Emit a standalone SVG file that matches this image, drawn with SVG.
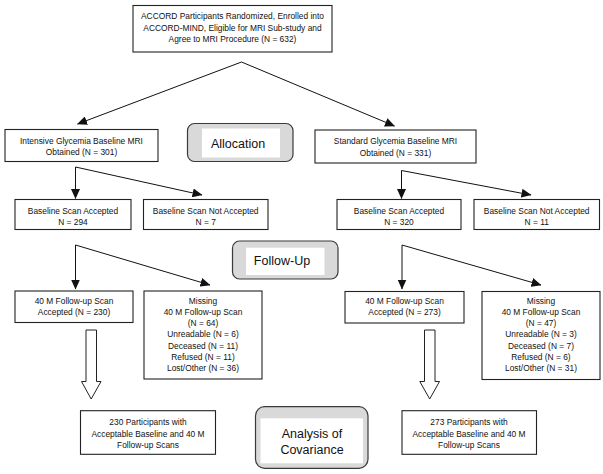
<svg xmlns="http://www.w3.org/2000/svg" width="603" height="474" viewBox="0 0 603 474">
<style>
.box{fill:#fff;stroke:#222;stroke-width:1.1}
.t{font-family:"Liberation Sans",Arial,sans-serif;font-size:8.4px;fill:#111;text-anchor:middle}
.big{font-family:"Liberation Sans",Arial,sans-serif;font-size:12.5px;fill:#111;text-anchor:middle}
.stage{fill:#d9d9d9;stroke:#3a3a3a;stroke-width:1.2}
.inner{fill:#fff;stroke:none}
.ln{fill:none;stroke:#111;stroke-width:1}
.hollow{fill:#fff;stroke:#222;stroke-width:1}
</style>
<defs>
<marker id="ah" markerUnits="userSpaceOnUse" markerWidth="10" markerHeight="9" refX="9.5" refY="4.5" orient="auto">
<path d="M0,0 L10,4.5 L0,9 Z" fill="#111"/>
</marker>
</defs>
<rect width="603" height="474" fill="#fff"/>

<g id="connectors">
<path class="ln" d="M241.5,62 L77.5,124" marker-end="url(#ah)"/>
<path class="ln" d="M241.5,62 L394.5,126" marker-end="url(#ah)"/>
<path class="ln" d="M75.5,167 L75.5,198.5" marker-end="url(#ah)"/>
<path class="ln" d="M75.5,167 L202,195" marker-end="url(#ah)"/>
<path class="ln" d="M401.5,170.5 L401.5,198.5" marker-end="url(#ah)"/>
<path class="ln" d="M401.5,170.5 L531,195" marker-end="url(#ah)"/>
<path class="ln" d="M75.5,245 L75.5,289" marker-end="url(#ah)"/>
<path class="ln" d="M75.5,245 L210,285" marker-end="url(#ah)"/>
<path class="ln" d="M402,245 L402,289" marker-end="url(#ah)"/>
<path class="ln" d="M402,245 L541,285" marker-end="url(#ah)"/>
<path class="hollow" d="M86,330 L96.5,330 L96.5,381.5 L101,381.5 L91.2,399 L81.5,381.5 L86,381.5 Z"/>
<path class="hollow" d="M424.5,330 L435,330 L435,381.5 L439.5,381.5 L429.7,399 L419.8,381.5 L424.5,381.5 Z"/>
</g>

<g id="n-top">
<rect class="box" x="133" y="5.5" width="199" height="46.5"/>
<text class="t" x="232.5" y="19">ACCORD Participants Randomized, Enrolled into</text>
<text class="t" x="232.5" y="30.7">ACCORD-MIND, Eligible for MRI Sub-study and</text>
<text class="t" x="232.5" y="42.4">Agree to MRI Procedure (N = 632)</text>
</g>

<g id="n-intensive">
<rect class="box" x="5" y="129.5" width="153" height="32"/>
<text class="t" x="81.5" y="143.5">Intensive Glycemia Baseline MRI</text>
<text class="t" x="81.5" y="155.2">Obtained (N = 301)</text>
</g>

<g id="n-allocation">
<rect class="stage" x="187.5" y="123.5" width="105.5" height="38" rx="7"/>
<rect class="inner" x="202" y="128.5" width="78" height="29"/>
<text class="big" x="238" y="148.3">Allocation</text>
</g>

<g id="n-standard">
<rect class="box" x="315" y="130" width="161" height="33"/>
<text class="t" x="395.5" y="143.5">Standard Glycemia Baseline MRI</text>
<text class="t" x="395.5" y="155.5">Obtained (N = 331)</text>
</g>

<g id="n-bsa-l">
<rect class="box" x="15" y="199.5" width="116" height="30"/>
<text class="t" x="73" y="213.5">Baseline Scan Accepted</text>
<text class="t" x="73" y="224.8">N = 294</text>
</g>

<g id="n-bsna-l">
<rect class="box" x="143.5" y="199.5" width="124.5" height="30"/>
<text class="t" x="205.7" y="213.5">Baseline Scan Not Accepted</text>
<text class="t" x="205.7" y="224.8">N = 7</text>
</g>

<g id="n-bsa-r">
<rect class="box" x="337" y="199.5" width="124" height="30"/>
<text class="t" x="399" y="213.5">Baseline Scan Accepted</text>
<text class="t" x="399" y="224.8">N = 320</text>
</g>

<g id="n-bsna-r">
<rect class="box" x="474" y="199.5" width="125.5" height="30"/>
<text class="t" x="536.7" y="213.5">Baseline Scan Not Accepted</text>
<text class="t" x="536.7" y="224.8">N = 11</text>
</g>

<g id="n-followup">
<rect class="stage" x="232.5" y="241" width="105.5" height="38" rx="7"/>
<rect class="inner" x="246" y="247.7" width="78.5" height="27.3"/>
<text class="big" x="282" y="265">Follow-Up</text>
</g>

<g id="n-fu-l">
<rect class="box" x="15" y="291" width="118" height="31.5"/>
<text class="t" x="74" y="303.5">40 M Follow-up Scan</text>
<text class="t" x="74" y="315">Accepted (N = 230)</text>
</g>

<g id="n-miss-l">
<rect class="box" x="144" y="291" width="118" height="88"/>
<text class="t" x="203" y="303.5">Missing</text>
<text class="t" x="203" y="314.8">40 M Follow-up Scan</text>
<text class="t" x="203" y="326.1">(N = 64)</text>
<text class="t" x="203" y="337.4">Unreadable (N = 6)</text>
<text class="t" x="203" y="348.7">Deceased (N = 11)</text>
<text class="t" x="203" y="360">Refused (N = 11)</text>
<text class="t" x="203" y="371.3">Lost/Other (N = 36)</text>
</g>

<g id="n-fu-r">
<rect class="box" x="345" y="291.5" width="119" height="31.5"/>
<text class="t" x="404.5" y="303.5">40 M Follow-up Scan</text>
<text class="t" x="404.5" y="315">Accepted (N = 273)</text>
</g>

<g id="n-miss-r">
<rect class="box" x="482" y="291.5" width="118" height="88"/>
<text class="t" x="541" y="303.5">Missing</text>
<text class="t" x="541" y="314.8">40 M Follow-up Scan</text>
<text class="t" x="541" y="326.1">(N = 47)</text>
<text class="t" x="541" y="337.4">Unreadable (N = 3)</text>
<text class="t" x="541" y="348.7">Deceased (N = 7)</text>
<text class="t" x="541" y="360">Refused (N = 6)</text>
<text class="t" x="541" y="371.3">Lost/Other (N = 31)</text>
</g>

<g id="n-p230">
<rect class="box" x="80.5" y="410.7" width="135" height="43.6"/>
<text class="t" x="148" y="425.2">230 Participants with</text>
<text class="t" x="148" y="436.5">Acceptable Baseline and 40 M</text>
<text class="t" x="148" y="447.8">Follow-up Scans</text>
</g>

<g id="n-ancova">
<rect class="stage" x="255.5" y="406.7" width="112.5" height="61.6" rx="9"/>
<rect class="inner" x="260.5" y="418.3" width="102.5" height="45"/>
<text class="big" x="312" y="438">Analysis of</text>
<text class="big" x="312" y="454">Covariance</text>
</g>

<g id="n-p273">
<rect class="box" x="402" y="410.7" width="134.5" height="43.6"/>
<text class="t" x="469" y="425.2">273 Participants with</text>
<text class="t" x="469" y="436.5">Acceptable Baseline and 40 M</text>
<text class="t" x="469" y="447.8">Follow-up Scans</text>
</g>
</svg>
